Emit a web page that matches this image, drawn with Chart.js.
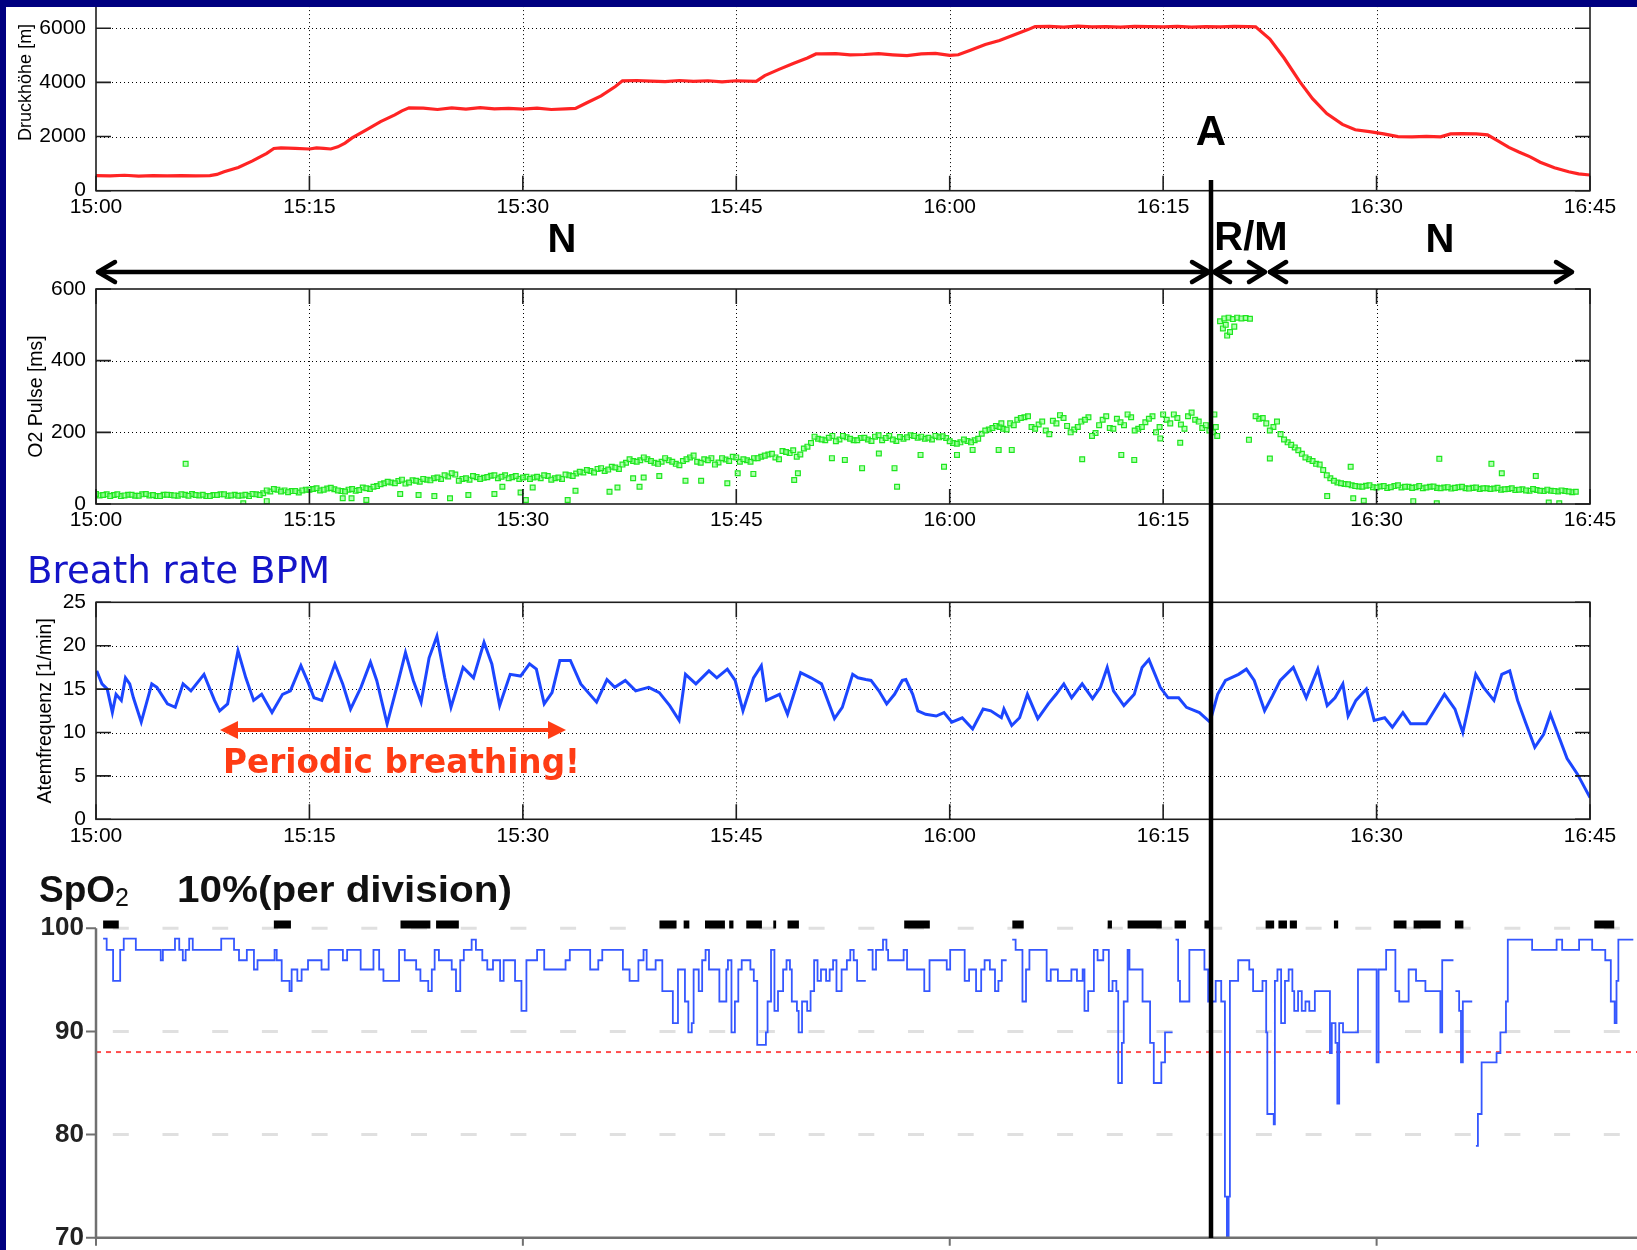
<!DOCTYPE html>
<html>
<head>
<meta charset="utf-8">
<script src="https://cdn.jsdelivr.net/npm/chart.js@4.4.1/dist/chart.umd.min.js"></script>
<style>
html,body{margin:0;padding:0;background:#fff;width:1637px;height:1250px;overflow:hidden;position:relative;}
canvas{position:absolute;left:0;}
#ov{position:absolute;left:0;top:0;}
</style>
</head>
<body>
<canvas id="c1" width="1637" height="290" style="top:-60px"></canvas>
<canvas id="c2" width="1637" height="300" style="top:240px"></canvas>
<canvas id="c3" width="1637" height="300" style="top:560px"></canvas>
<canvas id="c4" width="1637" height="420" style="top:880px"></canvas>
<svg id="ov" width="1637" height="1250" xmlns="http://www.w3.org/2000/svg">
  <rect x="0" y="0" width="1637" height="7" fill="#000080"/>
  <rect x="0" y="0" width="6" height="1250" fill="#000080"/>
  <line x1="1211" y1="180" x2="1211" y2="1238" stroke="#000" stroke-width="4.5"/>
  <g stroke="#000" stroke-width="4.5" fill="none" stroke-linecap="round" stroke-linejoin="round">
    <line x1="99" y1="272" x2="1207" y2="272"/>
    <polyline points="115,262 98,272 115,282"/>
    <polyline points="1192,262 1209,272 1192,282"/>
    <line x1="1215" y1="272" x2="1264" y2="272"/>
    <polyline points="1230,262 1214,272 1230,282"/>
    <polyline points="1249,262 1265,272 1249,282"/>
    <line x1="1270" y1="272" x2="1571" y2="272"/>
    <polyline points="1286,262 1270,272 1286,282"/>
    <polyline points="1556,262 1572,272 1556,282"/>
  </g>
  <line x1="234" y1="730" x2="552" y2="730" stroke="#ff3c14" stroke-width="4"/>
  <polygon points="220,730 238,721 238,739" fill="#ff3c14"/>
  <polygon points="566,730 548,721 548,739" fill="#ff3c14"/>
  <g font-family="'Liberation Sans', Arial, sans-serif" font-weight="bold" fill="#000" text-anchor="middle">
    <text x="1211" y="145" font-size="42">A</text>
    <text x="562" y="252" font-size="40">N</text>
    <text x="1251" y="250" font-size="40">R/M</text>
    <text x="1440" y="252" font-size="40">N</text>
  </g>
  <text x="27" y="583" font-family="'DejaVu Sans', sans-serif" font-size="37" fill="#1414c8" textLength="303" lengthAdjust="spacingAndGlyphs">Breath rate BPM</text>
  <text x="223" y="773" font-family="'DejaVu Sans', sans-serif" font-weight="bold" font-size="34" fill="#ff3c14" textLength="357" lengthAdjust="spacingAndGlyphs">Periodic breathing!</text>
  <text x="39" y="902" font-family="'Liberation Sans', Arial, sans-serif" font-weight="bold" font-size="37" fill="#111">SpO<tspan font-size="25" font-weight="normal" dy="4">2</tspan></text>
  <text x="177" y="902" font-family="'Liberation Sans', Arial, sans-serif" font-weight="bold" font-size="37" fill="#111" textLength="335" lengthAdjust="spacingAndGlyphs">10%(per division)</text>
</svg>
<script>
// ---------- DATA (minutes after 15:00) ----------
const altTime = [
  0,1,2,3,4,5,6,7,8,8.5,
  9,10,11,12,12.5,13,14,15,15.5,16,
  16.5,17,17.5,18,19,20,21,21.5,22,23,
  24,25,26,27,28,29,30,31,32,33,
  33.7,34.5,35.5,36.5,37,38,39,40,41,42,
  43,44,45,46.4,47,48,49,50,50.6,51,
  52,53,54,55,56,57,58,59,60,60.6,
  61.5,62.5,63.5,64.5,65.5,66,67,68,69,70,
  71,72,73,74,75,76,77,78,79,80,
  81,81.5,82.5,83.5,84.6,85.5,86.5,87.6,88.5,89.5,
  90.5,91.5,92.5,93.5,94.5,95.2,96,97,97.8,98.5,
  99.3,100,100.8,101.5,102.5,103.5,104.2,105
];
const altValue = [
  560,550,570,540,560,550,560,545,560,600,
  700,860,1100,1380,1560,1580,1560,1540,1580,1560,
  1540,1620,1760,1950,2250,2550,2800,2950,3060,3050,
  3000,3060,3010,3070,3020,3040,3010,3050,3000,3020,
  3040,3250,3500,3850,4060,4070,4050,4030,4070,4040,
  4060,4020,4060,4040,4250,4480,4700,4900,5050,5050,
  5060,5020,5030,5060,5020,4990,5050,5070,5000,5020,
  5200,5400,5550,5750,5950,6060,6070,6040,6080,6050,
  6060,6040,6070,6060,6050,6070,6040,6060,6050,6070,
  6060,6050,5600,4900,4030,3400,2850,2450,2250,2180,
  2100,2000,1990,2010,1990,2100,2110,2100,2060,1850,
  1600,1430,1250,1050,850,700,620,580
];

const o2Time = [
  0,0.5,1,1.5,2,2.5,3,3.5,4,4.5,5,5.5,6,6.5,7,7.5,8,8.5,9,9.5,10,10.5,11,11.5,
  12,12.5,13,13.5,14,14.5,15,15.5,16,16.5,17,17.5,18,18.5,19,19.5,
  20,20.5,21,21.5,22,22.5,23,23.5,24,24.5,25,25.5,26,26.5,27,27.5,28,28.5,29,29.5,30,
  30.5,31,31.5,32,32.5,33,33.5,34,34.5,35,35.5,36,36.5,37,37.5,38,
  38.5,39,39.5,40,40.5,41,41.5,42,42.5,43,43.5,44,44.5,45,45.5,46,46.5,47,47.5,48,48.5,49,49.5,50,
  50.5,51,51.5,52,52.5,53,53.5,54,54.5,55,55.5,56,56.5,57,57.5,58,58.5,59,59.5,60,60.5,61,61.5,62,
  62.5,63,63.5,64,64.5,65,65.5,66,66.5,67,67.5,68,68.5,69,69.5,70,70.5,71,71.5,72,72.5,73,73.5,74,74.5,75,75.5,76,76.5,77,77.5,78,78.5,78.6,78.7,78.8,
  79.0,79.2,79.3,79.4,79.5,79.6,79.7,79.9,80.0,80.2,80.5,80.8,81.1,
  81.5,82,82.5,83,83.5,84,84.5,85,85.5,86,86.5,87,87.5,
  88,88.5,89,89.5,90,90.5,91,91.5,92,92.5,93,93.5,94,94.5,95,95.5,96,96.5,97,97.5,98,98.5,99,99.5,100,100.5,101,101.5,102,102.5,103,103.5,104,
  6.3,10.35,12.0,17.34,17.96,19.0,21.38,22.67,23.78,24.88,
  26.17,28.0,28.56,29.84,30.21,30.69,33.15,33.7,36.09,36.65,
  37.75,38.2,38.49,39.59,41.43,42.53,44.37,45.1,46.2,49.07,
  49.33,51.72,52.63,53.84,55.02,56.12,56.3,57.95,59.6,60.51,
  61.61,63.44,63.63,64.36,69.31,72.06,72.97,76.2,74.8,81.03,
  82.5,88.18,86.53,88.36,89.1,92.58,94.23,94.41,98.07,98.8,
  101.19,102.1,102.84
];
const o2Value = [
  28,25,22,27,24,26,23,28,25,22,26,24,27,23,25,26,22,25,27,24,23,26,28,25,
  38,42,35,33,36,38,40,44,40,45,38,35,42,39,44,48,
  55,62,58,68,60,65,70,66,74,80,86,65,72,78,70,75,80,76,72,78,74,
  70,76,80,68,74,82,78,90,95,88,100,96,102,110,125,118,
  130,120,112,128,118,108,125,135,115,122,110,128,120,130,125,118,128,135,140,125,145,150,138,160,
  188,180,185,175,190,182,178,185,176,192,184,180,187,186,190,188,185,190,189,175,168,180,172,182,
  205,212,215,208,220,240,245,210,230,195,225,240,200,215,235,190,220,245,210,228,250,205,215,238,200,250,225,240,210,255,230,220,200,250,215,190,
  510,490,518,500,470,520,480,516,495,520,518,519,517,
  245,240,205,230,180,165,150,130,120,110,80,65,58,
  55,50,48,52,46,50,47,52,48,45,50,46,49,44,47,45,48,43,46,44,42,45,41,44,40,38,42,37,40,36,38,35,34,
  112,2,8,16,16,11,28,25,22,16,
  25,28,48,32,11,46,11,37,34,46,
  72,48,74,78,65,65,58,86,84,67,
  86,128,123,100,141,100,48,137,104,137,
  151,151,225,151,125,137,123,171,183,179,
  127,104,22,16,9,8,2,126,112,86,
  78,4,2
];
const o2Time2 = [
  0.25,0.75,1.25,1.75,2.25,2.75,3.25,3.75,4.25,4.75,5.25,5.75,6.25,6.75,7.25,7.75,8.25,8.75,9.25,9.75,10.25,10.75,11.25,11.75,
  12.25,12.75,13.25,13.75,14.25,14.75,15.25,15.75,16.25,16.75,17.25,17.75,18.25,18.75,19.25,19.75,
  20.25,20.75,21.25,21.75,22.25,22.75,23.25,23.75,24.25,24.75,25.25,25.75,26.25,26.75,27.25,27.75,28.25,28.75,29.25,29.75,30.25,
  30.75,31.25,31.75,32.25,32.75,33.25,33.75,34.25,34.75,35.25,35.75,36.25,36.75,37.25,37.75,38.25,
  38.75,39.25,39.75,40.25,40.75,41.25,41.75,42.25,42.75,43.25,43.75,44.25,44.75,45.25,45.75,46.25,46.75,47.25,47.75,48.25,48.75,49.25,49.75,50.25,
  50.75,51.25,51.75,52.25,52.75,53.25,53.75,54.25,54.75,55.25,55.75,56.25,56.75,57.25,57.75,58.25,58.75,59.25,59.75,60.25,60.75,61.25,61.75,62.25,
  62.75,63.25,63.75,64.25,64.75,65.25,65.75,66.25,66.75,67.25,67.75,68.25,68.75,69.25,69.75,70.25,70.75,71.25,71.75,72.25,72.75,73.25,73.75,74.25,74.75,75.25,75.75,76.25,76.75,77.25,77.75,78.25,
  81.75,82.25,82.75,83.25,83.75,84.25,84.75,85.25,85.75,86.25,86.75,87.25,87.75,
  88.25,88.75,89.25,89.75,90.25,90.75,91.25,91.75,92.25,92.75,93.25,93.75,94.25,94.75,95.25,95.75,96.25,96.75,97.25,97.75,98.25,98.75,99.25,99.75,100.25,100.75,101.25,101.75,102.25,102.75,103.25,103.75
];
const o2Value2 = [
  24,27,25,22,26,23,27,24,22,26,25,23,26,28,24,22,25,27,23,26,24,22,27,30,
  35,40,38,36,32,40,42,38,43,41,36,40,37,46,42,50,
  58,60,64,57,66,62,68,72,70,77,82,70,68,75,73,79,72,80,75,70,76,
  74,72,78,72,70,80,85,88,92,98,92,104,98,115,120,122,
  125,115,118,122,112,120,130,118,125,128,116,124,132,118,122,128,132,138,130,148,142,132,155,170,
  182,178,190,180,186,178,184,180,188,178,190,176,182,192,185,182,180,186,184,170,172,176,178,196,
  208,218,210,225,235,242,215,222,205,232,248,218,208,230,242,198,235,212,238,220,242,210,228,245,215,235,250,222,245,235,212,205,
  238,225,215,195,172,158,140,125,112,95,72,60,56,
  52,49,51,47,49,45,50,46,48,47,44,48,45,46,43,47,44,45,42,44,43,40,42,39,41,37,39,36,37,35,36,33
];

const brTime = [
  0.05,0.42,0.79,1.15,1.41,1.78,2.07,2.37,2.63,3.18,
  3.92,4.28,5.02,5.57,6.12,6.67,7.59,8.33,8.69,9.25,
  9.98,10.53,11.08,11.64,12.37,13.11,13.66,14.40,14.95,15.32,
  15.87,16.79,17.34,17.89,18.62,19.29,19.73,20.46,21.20,21.75,
  22.30,22.85,23.41,23.96,24.51,24.95,25.80,26.53,27.27,27.82,
  28.37,29.11,29.84,30.47,30.95,31.50,32.05,32.60,33.34,34.07,
  35.18,35.91,36.46,37.20,37.93,38.85,39.59,40.32,40.98,41.43,
  42.16,43.08,43.63,44.37,44.92,45.47,46.21,46.76,47.12,48.04,
  48.60,49.52,50.25,50.99,51.90,52.45,53.18,53.55,54.10,54.47,
  55.02,55.57,56.12,56.67,56.92,57.40,57.76,58.31,59.05,59.60,
  60.15,60.88,61.61,62.35,62.89,63.63,63.81,64.36,64.91,65.46,
  66.19,66.93,67.48,68.02,68.57,69.31,70.04,70.59,71.07,71.51,
  72.24,72.97,73.52,74.00,74.80,75.35,76.09,76.64,77.55,78.29,
  78.83,79.38,80.30,80.85,81.40,82.13,82.68,83.23,84.15,85.06,
  85.87,86.53,87.08,87.63,88.00,88.55,89.28,89.83,90.57,91.11,
  91.85,92.39,93.49,94.77,95.51,96.06,96.97,97.52,98.25,98.80,
  99.36,99.91,100.46,101.12,101.74,102.22,102.84,103.39,104.12,105.0
];
const brValue = [
  17.1,15.6,15.0,12.3,14.4,13.7,16.3,15.6,14.0,11.2,
  15.6,15.2,13.3,12.9,15.6,14.8,16.7,13.7,12.5,13.3,
  19.4,16.3,13.7,14.4,12.3,14.4,14.8,17.7,15.6,14.0,
  13.7,17.9,15.6,12.7,15.2,18.1,16.0,11.0,15.6,19.2,
  16.0,13.5,18.6,21.1,16.3,12.9,17.5,16.3,20.4,17.9,
  13.1,16.7,16.5,17.9,17.3,13.3,14.6,18.3,18.3,15.6,
  13.5,16.1,15.2,16.0,14.8,15.2,14.6,13.1,11.4,16.7,
  15.6,17.1,16.3,17.3,16.0,12.5,16.3,17.7,13.7,14.4,
  12.1,16.9,16.3,15.6,11.6,12.9,16.7,16.3,16.1,16.0,
  14.8,13.3,14.4,16.0,16.1,14.4,12.5,12.1,11.9,12.3,
  11.2,11.7,10.4,12.7,12.5,11.7,12.7,10.8,11.7,14.4,
  11.6,13.3,14.4,15.6,14.0,15.6,13.9,15.2,17.5,14.8,
  13.1,14.4,17.5,18.4,15.2,14.0,14.0,12.9,12.3,11.2,
  14.4,16.0,16.7,17.3,16.0,12.5,14.2,16.0,17.5,14.0,
  17.3,13.1,14.0,15.6,11.9,13.7,15.0,11.4,11.7,10.6,
  12.3,11.0,11.0,14.4,12.7,10.0,16.7,15.2,13.7,16.7,
  17.1,13.7,11.2,8.3,9.8,12.1,9.4,7.0,5.2,2.5
];

const spo2Time = [
  0.5,0.75,1.2,1.7,1.95,2.8,4.55,4.7,5.55,5.85,
  6.1,6.3,6.55,6.8,8.8,9.7,10.05,10.6,11.1,11.35,
  12.55,12.7,13.05,13.6,13.75,14.15,14.45,14.9,15.85,16.35,
  17.35,17.65,18.6,19.5,19.9,20.2,21.3,21.7,22.5,22.8,
  23.35,23.6,23.8,24.1,25.0,25.3,25.6,25.85,26.4,26.7,
  27.15,27.5,27.9,28.4,28.65,29.45,29.9,30.25,31.0,31.5,
  33.0,33.3,34.73,35.3,35.58,37.03,37.5,38.12,38.48,38.7,
  39.33,39.8,40.54,40.9,41.39,41.63,41.87,42.0,42.36,42.6,
  42.84,43.08,43.81,44.3,44.41,44.66,44.9,45.14,45.38,45.99,
  46.23,46.47,47.08,47.2,47.44,47.68,47.93,48.29,48.53,48.77,
  48.9,49.26,49.38,49.62,49.98,50.22,50.47,50.71,50.95,51.31,
  51.56,51.8,52.04,52.4,52.77,53.01,53.25,53.49,54.1,54.15,
  54.22,54.58,54.82,55.31,55.55,55.67,56.76,57.0,58.21,58.58,
  59.79,60.03,61.05,61.36,61.85,62.21,62.45,62.82,63.18,63.42,
  63.66,64.0,64.2,64.39,64.63,65.11,65.36,65.6,66.81,67.1,
  67.6,68.55,68.94,69.34,69.47,69.73,70.13,70.39,70.79,71.18,
  71.44,71.71,71.84,72.1,72.23,72.5,72.63,73.55,74.08,74.34,
  74.87,75.13,75.66,75.75,75.87,76.05,76.18,76.84,77.9,78.16,
  78.69,79.08,79.34,79.48,79.6,79.69,80.27,81.05,81.32,81.98,
  82.24,82.32,82.77,82.85,83.03,83.29,83.56,83.82,84.08,84.21,
  84.48,84.74,85.0,85.27,85.66,86.72,86.85,87.11,87.24,87.37,
  87.64,88.69,90.0,90.14,90.67,91.32,91.59,92.25,92.77,93.43,
  94.48,94.61,95.4,95.47,95.54,95.8,95.93,96.06,96.72,96.85,
  96.98,97.12,97.38,98.43,98.7,99.09,99.22,100.93,102.65,103.04,
  104.23,105.15,106.07,106.46,106.73,106.86,106.99,108.04
];
const spo2Value = [
  99.0,97.9,94.9,97.9,99.0,97.9,96.9,97.9,99.0,97.9,
  96.9,97.9,99.0,97.9,99.0,97.9,96.9,97.9,96.0,96.9,
  97.9,96.9,94.9,93.9,96.0,94.9,96.0,96.9,96.0,97.9,
  96.9,97.9,96.0,97.9,96.0,94.9,97.9,96.9,96.0,94.9,
  93.9,96.0,97.9,96.9,96.0,93.9,96.9,97.9,98.9,97.9,
  96.9,96.0,96.9,94.9,96.9,94.9,92.0,96.9,97.9,96.0,
  96.9,97.9,96.0,96.9,97.9,96.0,94.9,96.9,97.9,96.0,
  96.9,93.9,90.8,96.0,92.9,89.9,90.8,96.0,93.9,96.9,
  97.9,96.0,92.9,96.0,96.9,89.9,92.9,96.0,96.9,96.0,
  94.9,88.7,89.9,92.9,97.9,92.0,93.9,96.0,96.9,96.0,
  92.9,92.0,89.9,92.9,92.0,93.9,96.9,94.9,96.0,94.9,
  96.0,96.9,93.9,96.0,96.9,97.9,96.9,94.9,94.9,null,
  97.9,96.0,97.9,98.9,97.9,96.9,97.9,96.0,93.9,96.9,
  96.0,97.9,94.9,96.0,93.9,96.0,96.9,96.0,93.9,94.9,
  96.9,96.9,null,98.9,97.9,92.9,96.0,97.9,94.9,96.0,
  94.9,96.0,94.9,96.0,92.0,93.9,97.9,96.9,97.9,93.9,
  94.9,93.9,85.0,88.9,92.9,97.9,96.0,92.9,88.9,85.0,
  87.0,89.9,89.9,null,98.9,94.9,92.9,97.9,96.0,92.9,
  94.9,92.9,74.0,70.1,74.0,94.9,96.9,96.0,93.9,94.9,
  89.9,82.0,81.0,94.9,96.0,90.8,94.9,96.0,93.9,92.0,
  93.9,92.0,92.9,92.0,93.9,87.9,90.8,88.9,83.0,90.8,
  89.9,96.0,87.0,96.0,97.9,93.9,92.9,96.0,94.9,93.9,
  89.9,96.9,96.9,null,93.9,92.0,87.0,92.9,92.9,null,
  78.9,82.0,87.0,87.9,89.9,92.9,98.9,97.9,98.9,97.9,
  98.9,97.9,96.9,92.9,90.8,94.9,98.9,98.9
];
const spo2Threshold = 88;
const markLevel = 100.36;
const markStart = [0.5,12.5,21.4,23.9,39.6,41.3,42.8,44.5,45.7,47.6,48.6,56.8,64.4,71.1,72.5,75.8,77.9,82.2,83.1,83.9,87.0,91.2,92.6,95.5,105.3];
const markEnd   = [1.6,13.7,23.5,25.5,40.8,41.7,44.2,44.8,46.8,47.8,49.4,58.6,65.2,71.4,74.9,76.6,78.3,82.8,83.7,84.4,87.3,92.1,94.5,96.1,106.7];

// ---------- helpers ----------
function hhmm(v) {
  const total = 15 * 60 + Math.round(v);
  const h = Math.floor(total / 60), m = total % 60;
  return h + ':' + (m < 10 ? '0' : '') + m;
}
const plain = v => String(v);
const pts = (ts, vs) => ts.map((t, i) => ({ x: t, y: vs[i] }));
const SANS = '"Liberation Sans", Arial, sans-serif';

const frameAndGrid = {
  id: 'frameAndGrid',
  beforeDatasetsDraw(chart) {
    const { ctx, chartArea: a } = chart; const xs = chart.scales.x, ys = chart.scales.y;
    ctx.save();
    ctx.strokeStyle = '#000'; ctx.lineWidth = 1; ctx.setLineDash([1, 3]);
    xs.ticks.forEach(t => {
      const px = Math.round(xs.getPixelForValue(t.value)) + 0.5;
      if (px <= a.left + 2 || px >= a.right - 2) return;
      ctx.beginPath(); ctx.moveTo(px, a.top); ctx.lineTo(px, a.bottom); ctx.stroke();
    });
    ys.ticks.forEach(t => {
      const py = Math.round(ys.getPixelForValue(t.value)) + 0.5;
      if (py <= a.top + 2 || py >= a.bottom - 2) return;
      ctx.beginPath(); ctx.moveTo(a.left, py); ctx.lineTo(a.right, py); ctx.stroke();
    });
    ctx.restore();
  },
  afterDatasetsDraw(chart) {
    const { ctx, chartArea: a } = chart; const xs = chart.scales.x, ys = chart.scales.y;
    ctx.save();
    ctx.setLineDash([]); ctx.strokeStyle = '#1e1e1e'; ctx.lineWidth = 1.6;
    ctx.strokeRect(a.left, a.top, a.right - a.left, a.bottom - a.top);
    const L = 15;
    ctx.beginPath();
    xs.ticks.forEach(t => {
      const px = xs.getPixelForValue(t.value);
      ctx.moveTo(px, a.bottom); ctx.lineTo(px, a.bottom - L);
      ctx.moveTo(px, a.top); ctx.lineTo(px, a.top + L);
    });
    ys.ticks.forEach(t => {
      const py = ys.getPixelForValue(t.value);
      ctx.moveTo(a.left, py); ctx.lineTo(a.left + L, py);
      ctx.moveTo(a.right, py); ctx.lineTo(a.right - L, py);
    });
    ctx.stroke();
    ctx.restore();
  }
};

function panel(id, datasets, yMax, yStep, title, titleSize, titlePad, padTop, xH) {
  return new Chart(document.getElementById(id), {
    type: 'line',
    data: { datasets },
    options: {
      responsive: false, animation: false, events: [],
      layout: { padding: { left: 0, right: 47, top: padTop, bottom: 0 } },
      plugins: { legend: { display: false }, tooltip: { enabled: false } },
      scales: {
        x: {
          type: 'linear', min: 0, max: 105,
          ticks: { stepSize: 15, callback: hhmm, autoSkip: false, maxRotation: 0, font: { family: SANS, size: 21 }, color: '#000', padding: 4 },
          grid: { display: false, drawTicks: false }, border: { display: false },
          afterFit: s => { s.height = xH; }
        },
        y: {
          type: 'linear', min: 0, max: yMax,
          ticks: { stepSize: yStep, callback: plain, font: { family: SANS, size: 21 }, color: '#000', padding: 10 },
          grid: { display: false, drawTicks: false }, border: { display: false },
          title: { display: true, text: title, color: '#000', font: { family: SANS, size: titleSize }, padding: { top: titlePad, bottom: 0 } },
          afterFit: s => { s.width = 96; }
        }
      }
    },
    plugins: [frameAndGrid]
  });
}

// Panel 1: Druckhöhe
panel('c1', [{
  data: pts(altTime, altValue), borderColor: '#ff2424', borderWidth: 3.2, pointRadius: 0, tension: 0
}], 8000, 2000, 'Druckhöhe [m]', 18, 15.2, 34.1, 39.3);

// Panel 2: O2 Pulse
const o2Style = { showLine: false, pointStyle: 'rect', pointRadius: 3.4, pointBorderWidth: 1.2,
  pointBorderColor: '#1fe61f', pointBackgroundColor: 'rgba(130,255,130,0.6)' };
panel('c2', [
  Object.assign({ data: pts(o2Time, o2Value) }, o2Style),
  Object.assign({ data: pts(o2Time2, o2Value2) }, o2Style)
], 600, 200, 'O2 Pulse [ms]', 19.5, 24.9, 49, 36);

// Panel 3: Atemfrequenz
panel('c3', [{
  data: pts(brTime, brValue), borderColor: '#1c46ff', borderWidth: 3, pointRadius: 0, tension: 0
}], 25, 5, 'Atemfrequenz [1/min]', 19.5, 34.3, 42.3, 40.7);

// Panel 4: SpO2
const markData = [];
markStart.forEach((s, i) => {
  markData.push({ x: s, y: markLevel }, { x: markEnd[i], y: markLevel }, { x: markEnd[i] + 0.01, y: null });
});
const spo2Frame = {
  id: 'spo2Frame',
  beforeDatasetsDraw(chart) {
    const { ctx, chartArea: a } = chart; const ys = chart.scales.y;
    ctx.save();
    ctx.strokeStyle = '#e0e0e0'; ctx.lineWidth = 3; ctx.setLineDash([16, 33.7]); ctx.lineDashOffset = 32.9;
    ys.ticks.forEach(t => {
      if (t.value <= ys.min) return;
      const py = ys.getPixelForValue(t.value);
      ctx.beginPath(); ctx.moveTo(a.left, py); ctx.lineTo(a.right, py); ctx.stroke();
    });
    ctx.restore();
  },
  afterDatasetsDraw(chart) {
    const { ctx, chartArea: a } = chart; const xs = chart.scales.x, ys = chart.scales.y;
    const top = ys.getPixelForValue(ys.ticks[ys.ticks.length - 1].value);
    ctx.save();
    ctx.setLineDash([]); ctx.strokeStyle = '#707070'; ctx.lineWidth = 2.5;
    ctx.beginPath(); ctx.moveTo(a.left, top); ctx.lineTo(a.left, a.bottom); ctx.lineTo(a.right, a.bottom); ctx.stroke();
    ctx.lineWidth = 2;
    ctx.beginPath();
    ys.ticks.forEach(t => { const py = ys.getPixelForValue(t.value); ctx.moveTo(a.left - 10, py); ctx.lineTo(a.left, py); });
    xs.ticks.forEach(t => { const px = xs.getPixelForValue(t.value); ctx.moveTo(px, a.bottom); ctx.lineTo(px, a.bottom + 8); });
    ctx.stroke();
    ctx.restore();
  }
};
new Chart(document.getElementById('c4'), {
  type: 'line',
  data: {
    datasets: [
      { data: pts(spo2Time, spo2Value), stepped: 'before', borderColor: '#3557ff', borderWidth: 1.8, pointRadius: 0, spanGaps: false },
      { data: [{ x: 0, y: spo2Threshold }, { x: 108.3, y: spo2Threshold }], borderColor: '#ff4d4d', borderWidth: 2, borderDash: [5, 5], pointRadius: 0 },
      { data: markData, borderColor: '#000', borderWidth: 8, borderCapStyle: 'butt', pointRadius: 0, spanGaps: false }
    ]
  },
  options: {
    responsive: false, animation: false, events: [],
    layout: { padding: { left: 0, right: 0, top: 25.9, bottom: 0 } },
    plugins: { legend: { display: false }, tooltip: { enabled: false } },
    scales: {
      x: {
        type: 'linear', min: 0, max: 108.3,
        ticks: { stepSize: 30, includeBounds: false, callback: hhmm, autoSkip: false, maxRotation: 0, font: { family: SANS, size: 26, weight: 'bold' }, color: '#222', padding: 8 },
        grid: { display: false, drawTicks: false }, border: { display: false },
        afterFit: s => { s.height = 62.2; }
      },
      y: {
        type: 'linear', min: 70, max: 102,
        ticks: { stepSize: 10, includeBounds: false, font: { family: SANS, size: 26, weight: 'bold' }, color: '#222', padding: 12 },
        grid: { display: false, drawTicks: false }, border: { display: false },
        afterFit: s => { s.width = 96; }
      }
    }
  },
  plugins: [spo2Frame]
});
</script>
</body>
</html>
